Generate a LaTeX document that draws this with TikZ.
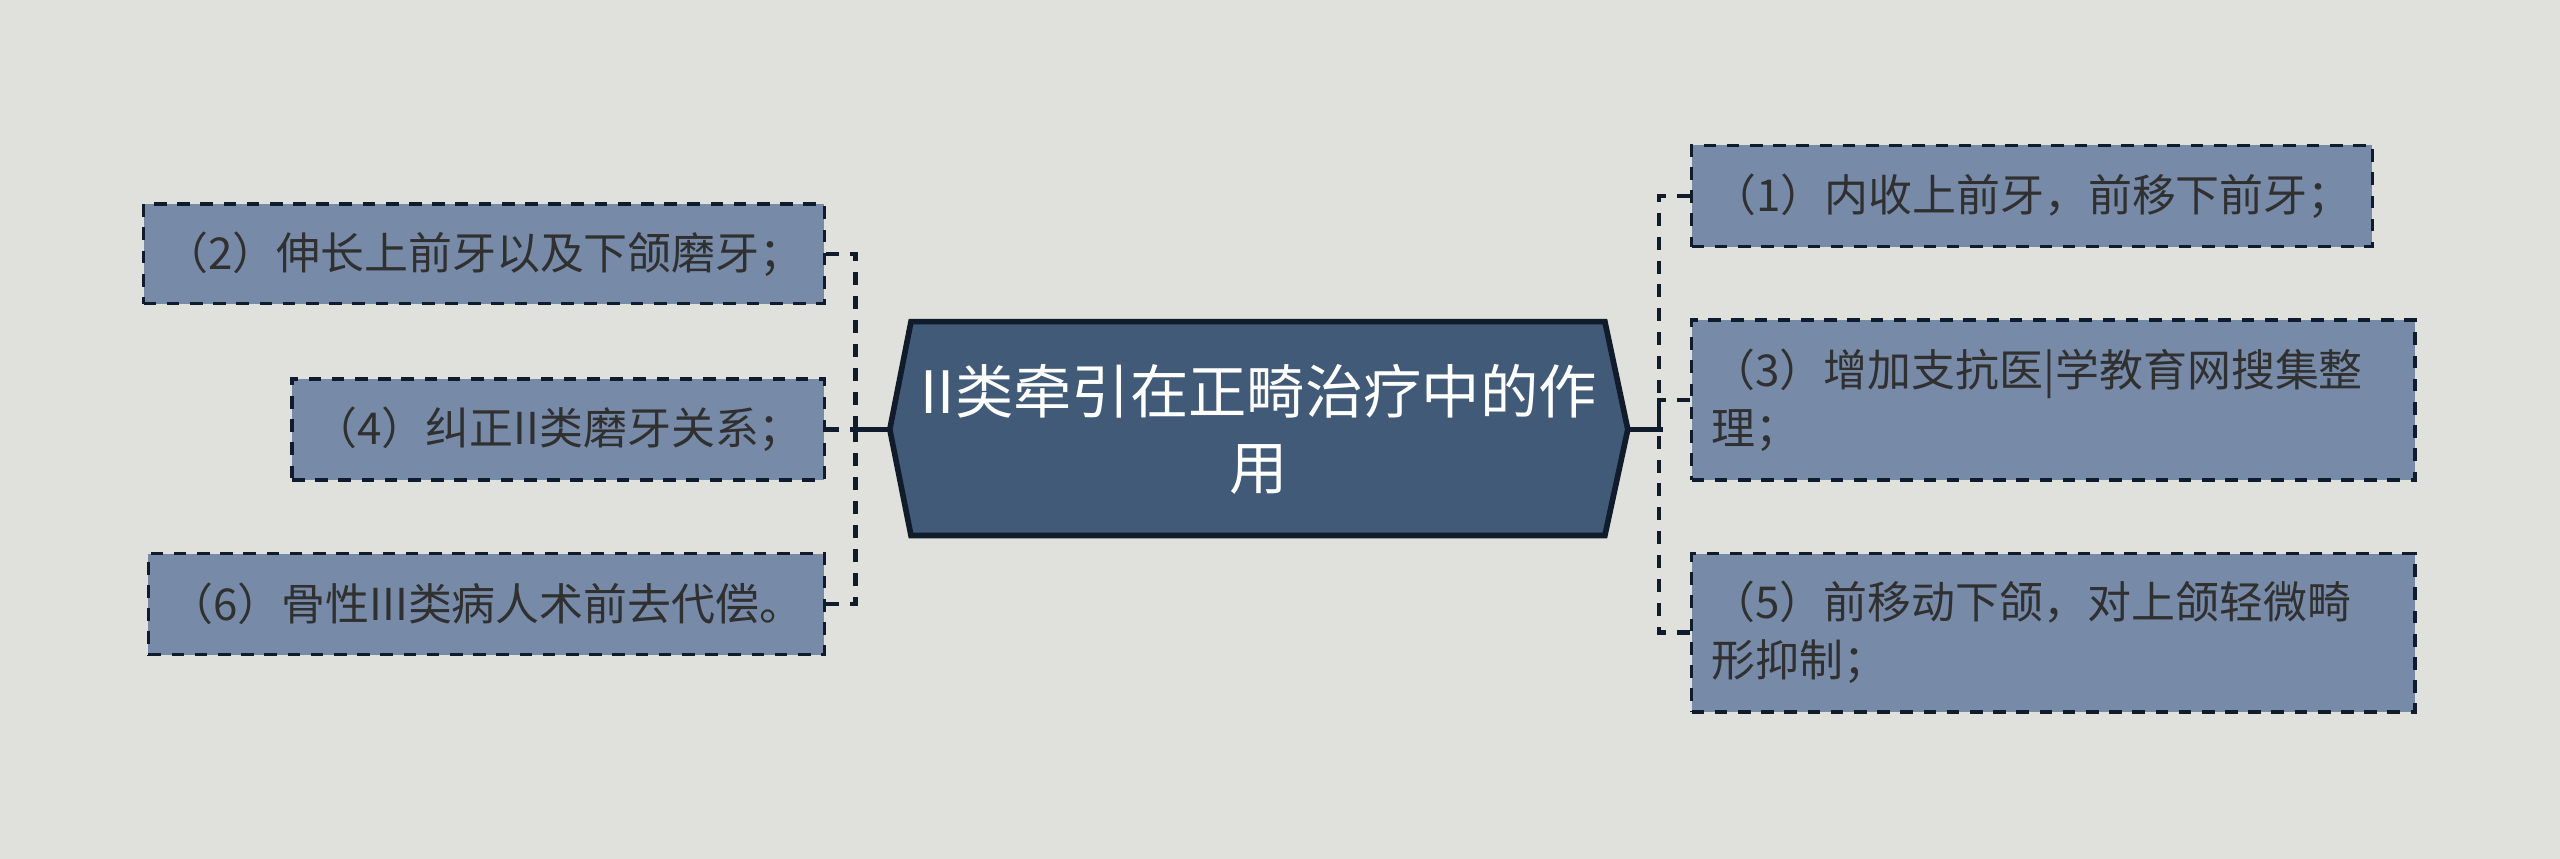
\documentclass[tikz,border=0pt]{standalone}
\usepackage{fontspec}
\setmainfont{Noto Sans CJK SC}
\definecolor{bgcol}{HTML}{E0E1DC}
\definecolor{leafcol}{HTML}{778AA8}
\definecolor{rootcol}{HTML}{415A78}
\definecolor{inkcol}{HTML}{101B2B}
\definecolor{txtcol}{HTML}{303030}
\tikzset{
 leaf/.style={draw=inkcol,line width=1pt,dash pattern=on 3.6pt off 3pt,fill=leafcol,text=txtcol,
  font=\fontsize{12.5pt}{16.5pt}\selectfont,align=left,inner xsep=0.2cm,inner ysep=0pt},
 rootbox/.style={draw=inkcol,line width=1.6pt,fill=rootcol,line join=miter},
 roottext/.style={text=white,font=\fontsize{16.6pt}{21.4pt}\selectfont,align=center,inner sep=0pt},
 branch/.style={draw=inkcol,line width=1.3pt,dash pattern=on 3.7pt off 3.1pt},
 trunk/.style={draw=inkcol,line width=1.3pt}
}
\begin{document}
\begin{tikzpicture}[x=1cm,y=-1cm]
 \fill[bgcol](0,0) rectangle (25.6,8.588);
 \useasboundingbox (0,0) rectangle (25.6,8.588);
 \draw[rootbox](8.898,4.294)--(9.110,3.216)--(16.049,3.216)--(16.278,4.294)--(16.049,5.355)--(9.110,5.355)--cycle;
 \coordinate (hexL) at (8.898,4.294);
 \coordinate (hexR) at (16.278,4.294);
 \node[roottext] (root) at (12.588,4.294) {II类牵引在正畸治疗中的作\\用};
 \node[leaf,anchor=east,minimum width=6.808cm,minimum height=0.996cm] (b2) at (8.261,2.539) {（2）伸长上前牙以及下颌磨牙；};
 \node[leaf,anchor=east,minimum width=5.323cm,minimum height=1.012cm] (b4) at (8.261,4.294) {（4）纠正II类磨牙关系；};
 \node[leaf,anchor=east,minimum width=6.759cm,minimum height=1.012cm] (b6) at (8.261,6.041) {（6）骨性III类病人术前去代偿。};
 \node[leaf,anchor=west,minimum width=6.808cm,minimum height=1.012cm] (b1) at (16.898,1.959) {（1）内收上前牙，前移下前牙；};
 \node[leaf,anchor=west,text width=6.833cm,minimum height=1.600cm] (b3) at (16.898,4.000) {（3）增加支抗医|学教育网搜集整\\理；};
 \node[leaf,anchor=west,text width=6.833cm,minimum height=1.584cm] (b5) at (16.898,6.327) {（5）前移动下颌，对上颌轻微畸\\形抑制；};
 \coordinate (jl) at (8.555,4.294);
 \coordinate (jr) at (16.588,4.294);
 \draw[trunk](hexL)--([xshift=-0.4mm]jl);
 \draw[trunk](hexR)--([xshift=0.4mm]jr);
 \draw[branch](b2.east)-|(jl);
 \draw[branch](b6.east)-|(jl);
 \draw[branch](b4.east)--(jl);
 \draw[branch](b1.west)-|(jr);
 \draw[branch](b5.west)-|(jr);
 \draw[branch](b3.west)-|(jr);
\end{tikzpicture}
\end{document}
